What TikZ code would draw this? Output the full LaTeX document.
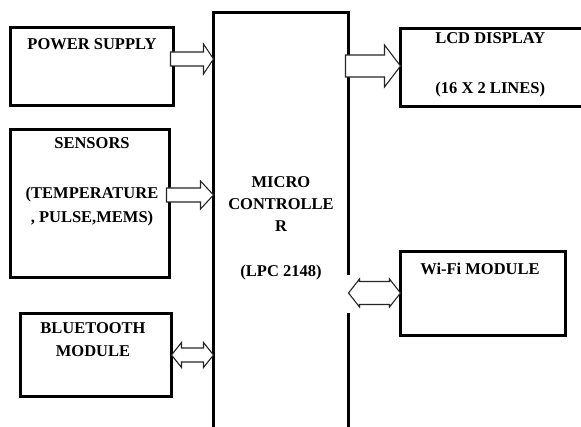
\documentclass[tikz,border=0pt]{standalone}
\usepackage{fontspec}
\setmainfont{Liberation Serif}
\usetikzlibrary{positioning, calc}

% one-way block arrow: from node, to node, y, shaft half, head half, head length
\newcommand{\onewayarrow}[6]{%
  \draw[blockarr] let \p1=(#1.east), \p2=(#2.west) in
    (\x1-3,#3+#4) -- (\x2-#6,#3+#4) -- (\x2-#6,#3+#5) -- (\x2,#3)
    -- (\x2-#6,#3-#5) -- (\x2-#6,#3-#4) -- (\x1-3,#3-#4) -- cycle;}
% two-way block arrow
\newcommand{\twowayarrow}[6]{%
  \draw[blockarr] let \p1=(#1.east), \p2=(#2.west) in
    (\x1,#3) -- (\x1+#6,#3+#5) -- (\x1+#6,#3+#4) -- (\x2-#6,#3+#4)
    -- (\x2-#6,#3+#5) -- (\x2,#3) -- (\x2-#6,#3-#5) -- (\x2-#6,#3-#4)
    -- (\x1+#6,#3-#4) -- (\x1+#6,#3-#5) -- cycle;}

\begin{document}
\begin{tikzpicture}[
    x=1pt, y=1pt,
    block/.style    = {rectangle, draw=black, line width=2.6pt, fill=white,
                       outer sep=0pt, inner sep=0pt},
    boxtext/.style  = {font=\fontsize{16.5}{23.5}\selectfont\bfseries,
                       align=center, inner sep=0pt},
    blockarr/.style = {draw=black!85, line width=1.1pt, fill=white, line join=miter}
  ]
  \useasboundingbox (0,0) rectangle (581,426);
  \clip (0,0) rectangle (581,426);

  % Blocks
  \node[block, minimum width=163, minimum height=78]   (power)   at (92,359.5)  {};
  \node[block, minimum width=159, minimum height=148]  (sensors) at (90,222.5)  {};
  \node[block, minimum width=151, minimum height=83]   (bt)      at (96,71)     {};
  \node[block, minimum width=135, minimum height=419.5](mcu)     at (281,203.75){};
  \node[block, minimum width=189.5, minimum height=78] (lcd)     at (495.25,358.5){};
  \node[block, minimum width=165, minimum height=84]   (wifi)    at (483,132.5) {};

  % Texts
  \node[boxtext, below=10.5pt of power.north] (powertxt) {POWER SUPPLY};
  \node[boxtext, below=7.5pt of sensors.north, xshift=2pt] (sensorstxt)
    {SENSORS\\[27pt](TEMPERATURE\\, PULSE,MEMS)};
  \node[boxtext, below=8.5pt of bt.north, xshift=-3pt] (bttxt) {BLUETOOTH\\MODULE};
  \node[boxtext, font=\fontsize{16.5}{22}\selectfont\bfseries,
        below=163.5pt of mcu.north] (mcutxt)
    {MICRO\\CONTROLLE\\R\\[23pt](LPC 2148)};
  \node[boxtext, below=3.5pt of lcd.north, xshift=-5pt] (lcdtxt)
    {LCD DISPLAY\\[26.5pt](16 X 2 LINES)};
  \node[boxtext, below=11.5pt of wifi.north, xshift=-3pt] (wifitxt) {Wi-Fi MODULE};

  % Arrows
  \onewayarrow{power}{mcu}{367}{7}{15}{10}
  \onewayarrow{sensors}{mcu}{231}{7}{14}{13}
  \twowayarrow{bt}{mcu}{71}{7}{12.5}{10}
  \onewayarrow{mcu}{lcd}{360}{11}{21}{16}
  \fill[white] (345,113) rectangle (353,151);
  \twowayarrow{mcu}{wifi}{133}{11.5}{14}{11}
\end{tikzpicture}
\end{document}
